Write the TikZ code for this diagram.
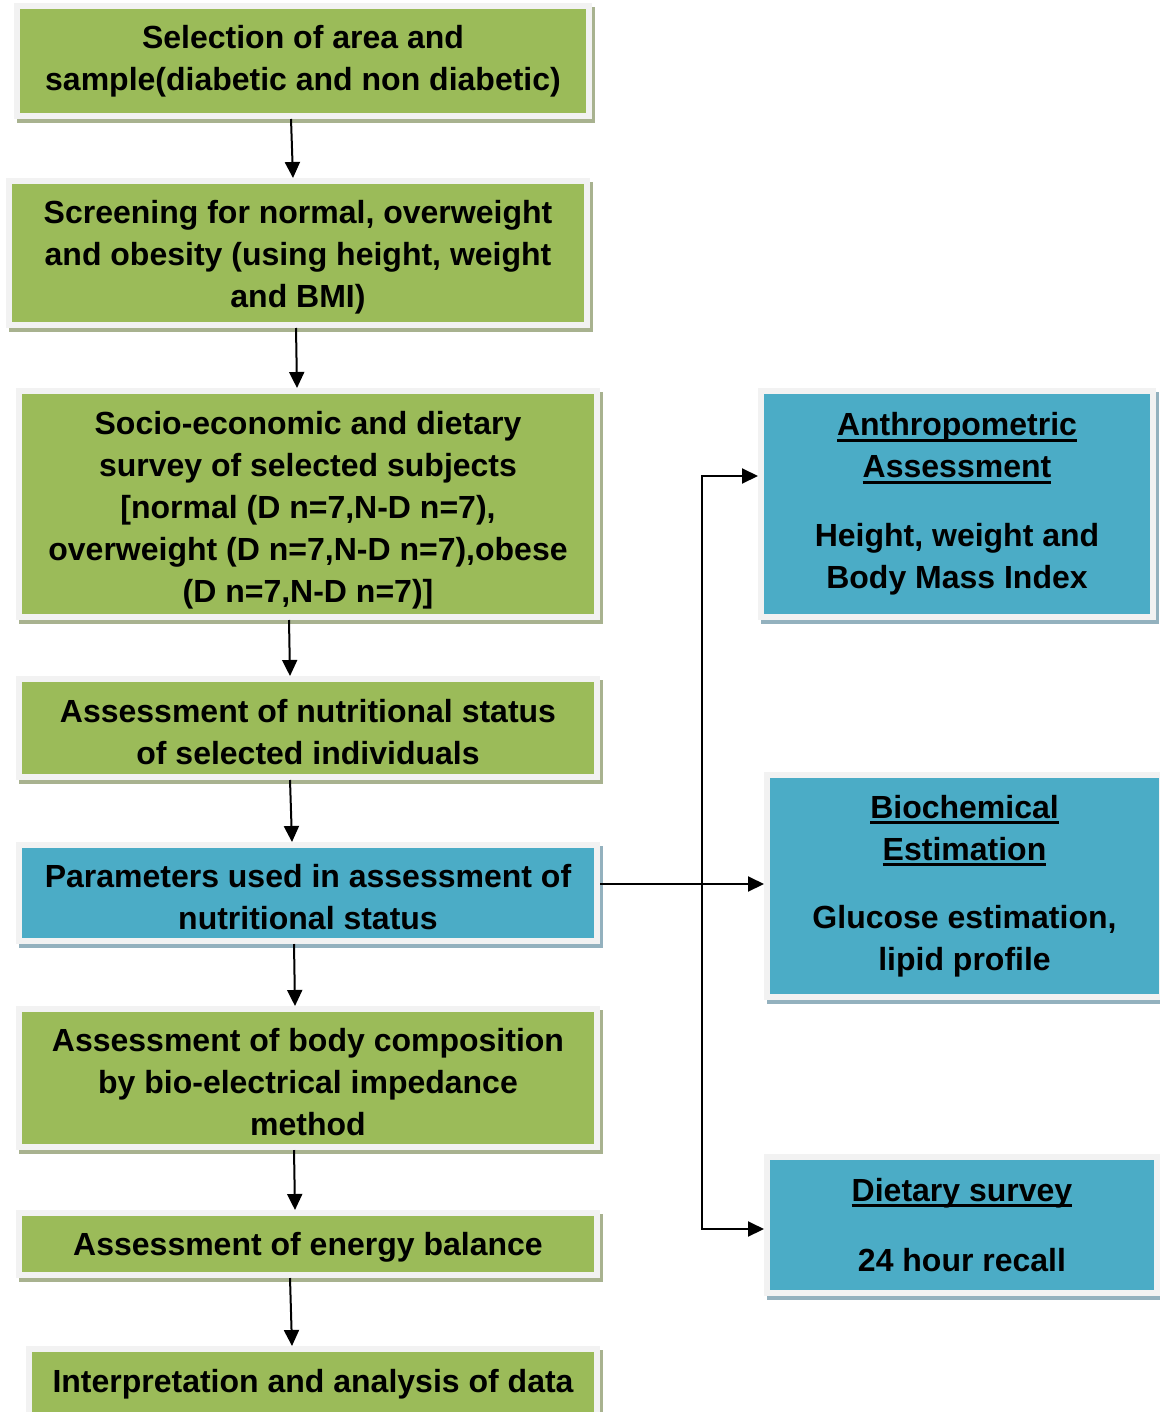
\documentclass[tikz,border=0pt]{standalone}
\usepackage{fontspec}
\setmainfont{Liberation Sans}
\usetikzlibrary{arrows.meta, positioning, shadows}
\definecolor{boxgreen}{RGB}{155,187,89}
\definecolor{boxblue}{RGB}{75,172,198}
\definecolor{framegray}{RGB}{242,242,242}
\definecolor{greenshade}{RGB}{168,178,143}
\definecolor{blueshade}{RGB}{147,177,190}
\newcommand{\ulwd}[1]{\leavevmode\setbox0\hbox{#1}\rlap{\vrule height -3pt depth 6pt width \wd0}\box0}
\newcommand{\topstrut}[1]{\rule{0pt}{#1}}
\tikzset{
    flowbox/.style={rectangle, draw=framegray, line width=6pt, inner sep=0pt,
                    align=center, minimum width=578pt,
                    font=\fontsize{32}{42}\selectfont\bfseries},
    greenbox/.style={flowbox, fill=boxgreen,
                     drop shadow={shadow xshift=3pt, shadow yshift=-4pt, opacity=1,
                                  fill=greenshade, draw=greenshade, line width=6pt}},
    bluebox/.style={flowbox, fill=boxblue,
                    drop shadow={shadow xshift=3pt, shadow yshift=-4pt, opacity=1,
                                 fill=blueshade, draw=blueshade, line width=6pt}},
    arrow/.style={-{Triangle[length=16pt, width=15pt]}, line width=2pt, draw=black},
    twoarrow/.style={{Triangle[length=16pt, width=15pt]}-{Triangle[length=16pt, width=15pt]},
                     line width=2pt, draw=black},
}
\begin{document}
\begin{tikzpicture}[x=1pt, y=-1pt]
    \useasboundingbox (0,0) rectangle (1159,1412);

    % Main flow
    \node[greenbox, minimum width=572pt, minimum height=110pt] (sel) at (303,61)
        {Selection of area and\\sample(diabetic and non diabetic)};
    \node[greenbox, minimum height=144pt, below=59pt of sel, xshift=-5pt] (scr)
        {\topstrut{32pt}Screening for normal, overweight\\and obesity (using height, weight\\and BMI)};
    \node[greenbox, minimum height=226pt, below=60pt of scr, xshift=10pt] (soc)
        {\topstrut{35pt}Socio-economic and dietary\\survey of selected subjects\\{[}normal (D n=7,N-D n=7),\\overweight (D n=7,N-D n=7),obese\\(D n=7,N-D n=7)]};
    \node[greenbox, minimum height=98pt, below=56pt of soc] (nut)
        {\topstrut{31pt}Assessment of nutritional status\\of selected individuals};
    \node[bluebox, minimum height=96pt, below=62pt of nut] (par)
        {\topstrut{32pt}Parameters used in assessment of\\nutritional status};
    \node[greenbox, minimum height=138pt, below=62pt of par] (bod)
        {\topstrut{32pt}Assessment of body composition\\by bio-electrical impedance\\method};
    \node[greenbox, minimum height=62pt, below=60pt of bod] (ene)
        {\topstrut{29pt}Assessment of energy balance};
    \node[greenbox, minimum width=568pt, minimum height=66pt, below=68pt of ene, xshift=5pt] (int)
        {\topstrut{27pt}Interpretation and analysis of data};

    % Parameter boxes
    \node[bluebox, minimum width=392pt, minimum height=226pt, right=158pt of soc] (anth)
        {\ulwd{Anthropometric}\\\ulwd{Assessment}\\[27pt]Height, weight and\\Body Mass Index};
    \node[bluebox, minimum width=395pt, minimum height=222pt, below=152pt of anth, xshift=7.5pt] (bio)
        {\ulwd{Biochemical}\\\ulwd{Estimation}\\[26pt]Glucose estimation,\\lipid profile};
    \node[bluebox, minimum width=390pt, minimum height=136pt, below=154pt of bio, xshift=-2.5pt] (diet)
        {\ulwd{Dietary survey}\\[28pt]24 hour recall};

    % Arrows
    \draw[arrow] ([xshift=-12pt]sel.south) -- ([xshift=-5pt]scr.north);
    \draw[arrow] ([xshift=-2pt]scr.south) -- ([xshift=-11pt]soc.north);
    \draw[arrow] ([xshift=-19pt]soc.south) -- ([xshift=-18pt]nut.north);
    \draw[arrow] ([xshift=-18pt]nut.south) -- ([xshift=-16pt]par.north);
    \draw[arrow] ([xshift=-14pt]par.south) -- ([xshift=-13pt]bod.north);
    \draw[arrow] ([xshift=-14pt]bod.south) -- ([xshift=-13pt]ene.north);
    \draw[arrow] ([xshift=-18pt]ene.south) -- ([xshift=-21pt]int.north);
    \draw[arrow] ([yshift=9pt]par.east) -- ([yshift=9pt]par.east -| bio.west);
    \draw[twoarrow] ([yshift=28pt]anth.west) -- ++(-56pt,0) |- ([yshift=-4pt]diet.west);
\end{tikzpicture}
\end{document}
